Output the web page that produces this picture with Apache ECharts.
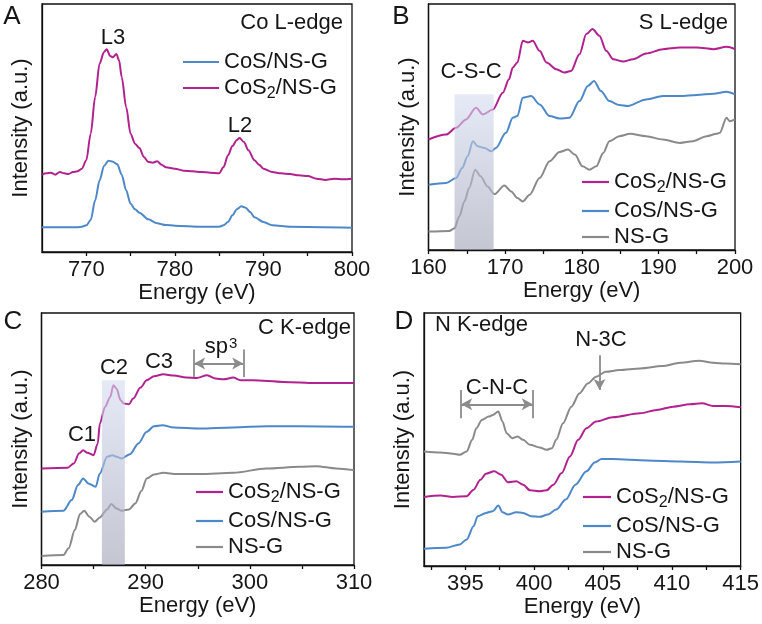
<!DOCTYPE html>
<html><head><meta charset="utf-8">
<script src="https://cdn.jsdelivr.net/npm/echarts@6/dist/echarts.min.js"></script>
<style>html,body{margin:0;padding:0;background:#fff}#c{width:762px;height:624px}</style>
</head><body><div id="c"></div>
<script>
// ---------- Panel A: Co L-edge ----------
const aCoS2E = [765,765.5,766,766.5,767,767.5,768,768.5,769,769.5,770,770.5,771,771.5,772,772.3,772.7,773,773.4,773.7,774,774.5,775,775.5,776,776.5,777,777.5,778,778.5,779,780,781,782,783,784,785,785.5,786,786.5,787,787.3,787.8,788.3,789,789.5,790,791,792,793,794,795,796,797,798,799,800];
const aCoS2  = [232,236,238,232,240,236,234,240,242,250,275,355,465,565,600,608,588,584,594,575,525,435,355,325,312,285,270,268,272,262,254,250,244,242,240,238,236,255,290,318,336,342,330,305,275,262,250,240,236,234,230,228,220,216,220,218,220];
const aCoSE  = [765,769,769.5,770,770.5,771,771.5,772,772.5,773,773.5,774,774.5,775,775.5,776,777,778,779,780,783,785,785.5,786,786.5,787,787.5,788,788.5,789,790,791,793,800];
const aCoS   = [74,74,76,80,96,155,215,258,274,271,263,232,185,145,128,118,98,86,81,79,76,76,80,90,110,128,137,133,120,104,90,80,76,73];
const aLabels = [770,780,790,800];
const aTicks  = [770,775,780,785,790,795,800];

// ---------- Panel B: S L-edge ----------
const bCoS2E = [160,162.3,163.6,164.9,166.2,167.1,168.4,169.7,170.5,171.0,171.6,172.3,173,173.6,174.5,175.4,176.7,177.7,178.6,179.7,180.6,181.4,182.3,183.2,184.1,185.4,186.7,188.4,190.6,192.8,195,197.2,198.9,200];
const bCoS2  = [330,345,365,390,425,405,420,470,510,545,560,625,620,625,595,560,540,530,535,585,645,660,640,595,570,563,570,587,600,605,605,600,607,600];
const bCoSE  = [160,162.3,163.6,164.4,165.1,165.8,166.4,167.3,168.2,168.8,170.1,171,171.6,172.3,173.4,174.5,175.8,177.1,178.4,179.7,180.8,181.6,182.5,183.6,184.9,186,188.4,190.6,192.8,195,197.2,198.9,200];
const bCoS   = [195,200,215,245,280,325,310,305,295,305,350,395,400,455,460,435,400,393,395,445,490,505,475,445,433,430,450,460,460,463,467,473,465];
const bNSGE  = [160,162.7,163.4,164,164.7,165.3,166.1,166.8,167.7,168.6,169.9,170.8,171.6,172.3,173.2,174.5,175.8,177.1,178.2,179.1,180.1,181,181.9,182.8,183.6,184.9,186.3,188.4,190.6,192.8,194.5,196.3,197.6,198,198.9,199.3,200];
const bNSG   = [55,57,65,100,145,185,240,220,190,167,193,175,155,145,165,215,265,293,300,285,250,240,250,290,325,340,347,340,330,320,325,340,347,350,395,385,390];
const bBand  = [163.4,168.5,465];
const bLabels = [160,170,180,190,200];
const bTicks  = [160,165,170,175,180,185,190,195,200];

// ---------- Panel C: C K-edge ----------
const cCoS2E = [280,282.5,283.1,283.6,284,284.4,285,285.4,285.6,286.1,286.6,286.9,287.2,287.6,287.9,288.4,288.8,289.5,290.1,290.8,291.7,292.7,293.9,294.9,295.9,296.7,297.5,298.4,299.1,300.3,303.2,306.4,310];
const cCoS2  = [290,292,305,335,345,337,330,365,425,475,505,540,530,495,485,483,500,533,555,567,573,569,563,562,570,560,558,563,555,555,550,547,547];
const cCoSE  = [280,282.1,282.9,283.5,284,284.5,285.2,285.6,286.3,286.8,287.2,287.7,288.5,289.3,290.1,290.8,291.6,292.7,295.2,298.4,301.6,304.8,310];
const cCoS   = [160,163,195,240,260,245,235,275,325,330,325,320,333,365,400,417,420,413,410,413,417,417,415];
const cNSGE  = [280,282.1,282.6,283.2,283.7,284.1,284.6,285.1,285.6,286.3,286.7,287.2,287.7,288.4,289,289.6,290.1,290.8,291.7,293,295.2,298.4,301.6,304.8,306.4,308.3,310];
const cNSG   = [27,30,50,105,153,163,145,130,143,167,183,170,163,167,185,223,260,272,277,273,273,277,290,295,297,290,285];
const cBand  = [285.8,288.0,555];
const cSp3   = [294.65,299.37,565,647,605];
const cLabels = [280,290,300,310];
const cTicks  = [280,285,290,295,300,305,310];

// ---------- Panel D: N K-edge ----------
const dNSGE  = [392,393.2,394.1,394.6,395.1,395.5,395.8,396.2,396.7,397,397.4,397.7,398,398.4,398.8,399.2,399.7,400.4,400.9,401.3,401.6,402.1,402.7,403.3,403.9,404.5,405.2,406.2,407.7,409.3,410.6,412,413,413.9,415];
const dNSG   = [345,342,338,335,345,380,415,440,450,455,465,435,400,385,390,380,365,357,350,355,380,430,480,520,550,570,585,590,595,602,612,618,612,610,608];
const dCoS2E = [392,393.2,394.1,395.1,395.6,396.1,396.5,397.1,397.6,398.1,398.7,399.2,399.7,400.4,400.9,401.4,402,402.6,403.2,403.8,404.5,405.7,407.7,408.9,410.1,411.3,412.2,413,413.9,415];
const dCoS2  = [208,212,208,210,230,260,278,285,275,252,255,245,228,225,228,245,280,330,380,415,435,448,460,470,480,487,490,482,482,478];
const dCoSE  = [392,393.6,394.6,395.1,395.6,395.9,396.5,397,397.4,397.7,398.1,398.7,399.2,399.8,400.4,401,401.6,402.3,403,403.8,404.4,404.9,405.7,408.2,410.6,413,415];
const dCoS   = [52,55,65,80,120,150,160,165,182,162,155,162,160,150,148,155,170,200,245,285,312,322,322,318,315,312,315];
const dCNC   = [394.7,399.9,445,530,487];
const dN3C   = [404.75,635,530];
const dLabels = [395,400,405,410,415];
const dTicks  = [392.5,395,397.5,400,402.5,405,407.5,410,412.5,415];

const C_MAG = '#b2228e', C_BLUE = '#4d88c8', C_GRAY = '#8a8a8a', C_ANN = '#8c8c8c';
const FONT = '"Liberation Sans", Arial, sans-serif';
const TXT = '#161616';
const FS = 22;
const N_COS2 = 'CoS2/NS-G', N_COS = 'CoS/NS-G', N_NSG = 'NS-G';

const zip = (x, y) => x.map((v, i) => [v, y[i]]);
function line(name, color, idx, xs, ys, extra) {
  return Object.assign({
    name, type: 'line', xAxisIndex: idx, yAxisIndex: idx,
    data: zip(xs, ys), showSymbol: false, symbol: 'none', smooth: 0.3, smoothMonotone: 'x',
    lineStyle: { color, width: 2 }, itemStyle: { color }, silent: true, animation: false, z: 3
  }, extra || {});
}
const bandStyle = { color: { type: 'linear', x: 0, y: 0, x2: 0, y2: 1, colorStops: [
  { offset: 0, color: 'rgba(214,221,242,0.62)' }, { offset: 1, color: 'rgba(160,164,182,0.62)' }] } };
function band(b) {
  return { silent: true, z: 6, itemStyle: bandStyle, data: [[{ coord: [b[0], 0] }, { coord: [b[1], b[2]] }]] };
}
function bracket(p, color) {
  return {
    silent: true, symbol: 'none', animation: false, label: { show: false },
    lineStyle: { color, width: 1.8, type: 'solid' }, symbolSize: [9, 11],
    data: [
      [{ coord: [p[0], p[2]] }, { coord: [p[0], p[3]] }],
      [{ coord: [p[1], p[2]] }, { coord: [p[1], p[3]] }],
      [{ coord: [p[0], p[4]], symbol: 'arrow' }, { coord: [p[1], p[4]], symbol: 'arrow' }]
    ]
  };
}

const grids = [
  { left: 42, top: 4, width: 310, height: 248 },
  { left: 428.5, top: 4, width: 306.5, height: 246 },
  { left: 41.5, top: 313, width: 312.5, height: 252 },
  { left: 424, top: 313, width: 317.5, height: 253 }
].map(g => Object.assign({ show: true, borderColor: '#111', borderWidth: 1.3, backgroundColor: 'transparent' }, g));

function xAxis(idx, min, max, labels, ticks) {
  return {
    type: 'value', gridIndex: idx, min, max,
    name: 'Energy (eV)', nameLocation: 'middle', nameGap: 28,
    nameTextStyle: { fontSize: FS, color: TXT, fontFamily: FONT },
    axisLine: { show: true, lineStyle: { color: '#111', width: 1.3 } },
    axisTick: { show: true, inside: false, length: 4, lineStyle: { color: '#111', width: 1.3 }, customValues: ticks },
    axisLabel: { fontSize: FS, color: TXT, fontFamily: FONT, margin: 7, customValues: labels },
    splitLine: { show: false }
  };
}
function yAxis(idx, max) {
  return {
    type: 'value', gridIndex: idx, min: 0, max,
    name: 'Intensity (a.u.)', nameLocation: 'middle', nameGap: 10,
    nameTextStyle: { fontSize: FS, color: TXT, fontFamily: FONT },
    axisLine: { show: true, lineStyle: { color: '#111', width: 1.3 } },
    axisTick: { show: false }, axisLabel: { show: false }, splitLine: { show: false }
  };
}
const legendText = { fontSize: FS, color: TXT, fontFamily: FONT, lineHeight: 22,
  rich: { s: { fontSize: 16, color: TXT, fontFamily: FONT, lineHeight: 22, verticalAlign: 'bottom', padding: [0, 0, -3, 0] } } };
const legendFmt = n => n === N_COS2 ? 'CoS{s|2}/NS-G' : n;
function legend(data, left, top, w) {
  return { data, left, top, orient: 'vertical', icon: 'rect', itemWidth: w, itemHeight: 2.2, itemGap: 4, padding: 0,
    selectedMode: false, textStyle: legendText, formatter: legendFmt };
}

function txt(text, x, y, align, size, rich) {
  return { type: 'text', x, y, silent: true, z: 20,
    style: { text, fontSize: size || FS, fontFamily: FONT, fill: TXT, align: align || 'center', verticalAlign: 'middle', rich } };
}

const option = {
  animation: false,
  backgroundColor: '#fff',
  grid: grids,
  xAxis: [xAxis(0, 765, 800, aLabels, aTicks), xAxis(1, 160, 200, bLabels, bTicks), xAxis(2, 280, 310, cLabels, cTicks), xAxis(3, 392, 415, dLabels, dTicks)],
  yAxis: [yAxis(0, 744), yAxis(1, 735), yAxis(2, 757), yAxis(3, 762)],
  legend: [
    legend([N_COS, N_COS2], 183, 51, 36),
    legend([N_COS2, N_COS, N_NSG], 582, 171, 27),
    legend([N_COS2, N_COS, N_NSG], 196, 481, 27),
    legend([N_COS2, N_COS, N_NSG], 583, 486, 28)
  ],
  series: [
    line(N_COS2, C_MAG, 0, aCoS2E, aCoS2),
    line(N_COS, C_BLUE, 0, aCoSE, aCoS),
    line(N_COS2, C_MAG, 1, bCoS2E, bCoS2),
    line(N_COS, C_BLUE, 1, bCoSE, bCoS),
    line(N_NSG, C_GRAY, 1, bNSGE, bNSG, { markArea: band(bBand) }),
    line(N_COS2, C_MAG, 2, cCoS2E, cCoS2, { markLine: bracket(cSp3, C_ANN) }),
    line(N_COS, C_BLUE, 2, cCoSE, cCoS),
    line(N_NSG, C_GRAY, 2, cNSGE, cNSG, { markArea: band(cBand) }),
    line(N_COS2, C_MAG, 3, dCoS2E, dCoS2),
    line(N_COS, C_BLUE, 3, dCoSE, dCoS),
    line(N_NSG, C_GRAY, 3, dNSGE, dNSG, { markLine: Object.assign(bracket(dCNC, C_ANN), {
      data: bracket(dCNC, C_ANN).data.concat([[{ coord: [dN3C[0], dN3C[1]] }, { coord: [dN3C[0], dN3C[2]], symbol: 'arrow' }]]) }) })
  ],
  graphic: [
    txt('A', 12, 17, 'center', 26), txt('B', 401, 17, 'center', 26),
    txt('C', 13, 322, 'center', 26), txt('D', 404, 322, 'center', 26),
    txt('Co L-edge', 343, 23, 'right'), txt('L3', 113, 38), txt('L2', 240, 126),
    txt('S L-edge', 728, 23, 'right'), txt('C-S-C', 471, 72),
    txt('C K-edge', 351, 328, 'right'), txt('C1', 82, 435), txt('C2', 114, 368), txt('C3', 159, 362),
    txt('sp{sup|3}', 221, 347, 'center', FS, { sup: { fontSize: 15, fontFamily: FONT, fill: TXT, verticalAlign: 'top', lineHeight: 22, padding: [0, 0, 8, 1] } }),
    txt('N K-edge', 435, 325, 'left'), txt('N-3C', 601, 340), txt('C-N-C', 497, 388)
  ]
};
const chart = echarts.init(document.getElementById('c'), null, { renderer: 'canvas' });
chart.setOption(option);
</script></body></html>
